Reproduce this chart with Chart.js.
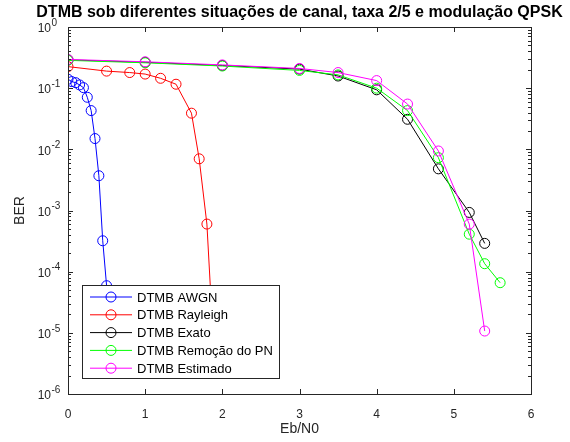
<!DOCTYPE html>
<html>
<head>
<meta charset="utf-8">
<title>DTMB BER</title>
<script src="https://cdn.jsdelivr.net/npm/chart.js@4.4.0/dist/chart.umd.min.js"></script>
<style>
  html, body { margin: 0; padding: 0; background: #fff; }
</style>
</head>
<body>
<canvas id="berChart" width="570" height="442"></canvas>
<script>
const titleText = 'DTMB sob diferentes situações de canal, taxa 2/5 e modulação QPSK';
const xLabel = 'Eb/N0';
const yLabel = 'BER';
const xTickValues = [0, 1, 2, 3, 4, 5, 6];
const yTickExponents = [0, -1, -2, -3, -4, -5, -6];

const seriesNames = ['DTMB AWGN', 'DTMB Rayleigh', 'DTMB Exato', 'DTMB Remoção do PN', 'DTMB Estimado'];
const seriesColors = ['#0000ff', '#ff0000', '#000000', '#00ff00', '#ff00ff'];

// valores
const awgnEbN0 = [0, 0.05, 0.1, 0.15, 0.2, 0.25, 0.3, 0.35, 0.4, 0.45, 0.5];
const awgnBer = [0.14, 0.128, 0.123, 0.113, 0.102, 0.071, 0.043, 0.015, 0.0037, 3.2e-4, 5.9e-5];
const rayleighEbN0 = [0, 0.5, 0.8, 1.0, 1.2, 1.4, 1.6, 1.7, 1.8, 1.9];
const rayleighBer = [0.225, 0.19, 0.18, 0.17, 0.145, 0.116, 0.039, 0.007, 6e-4, 3e-6];
const exatoEbN0 = [0, 1, 2, 3, 3.5, 4, 4.4, 4.8, 5.2, 5.4];
const exatoBer = [0.29, 0.265, 0.235, 0.205, 0.158, 0.094, 0.031, 0.0048, 9.3e-4, 2.9e-4];
const remocaoEbN0 = [0, 1, 2, 3, 3.5, 4, 4.4, 4.8, 5.2, 5.4, 5.6];
const remocaoBer = [0.285, 0.26, 0.23, 0.195, 0.165, 0.1, 0.043, 0.0073, 4.1e-4, 1.35e-4, 6.6e-5];
const estimadoEbN0 = [0, 1, 2, 3, 3.5, 4, 4.4, 4.8, 5.2, 5.4];
const estimadoBer = [0.295, 0.27, 0.24, 0.21, 0.18, 0.133, 0.055, 0.0094, 6e-4, 1.07e-5];

const fontFamily = '"Liberation Sans", Arial, sans-serif';
const axisColor = '#262626';
Chart.defaults.font.family = fontFamily;

function makeSeries(i, xs, ys) {
    return {
        label: seriesNames[i],
        data: xs.map((v, k) => ({ x: v, y: ys[k] })),
        borderColor: seriesColors[i],
        backgroundColor: 'rgba(0,0,0,0)',
        pointBorderColor: seriesColors[i],
        pointBackgroundColor: 'rgba(0,0,0,0)',
        pointRadius: 5,
        pointBorderWidth: 1,
        borderWidth: 1,
        fill: false,
        tension: 0,
        order: 5 - i // o último desenhado por cima, como no MATLAB
    };
}

// caixa, ticks internos, rótulos 10^n, título e legenda no estilo MATLAB
const matlabStyle = {
    id: 'matlabStyle',
    afterDatasetsDraw(chart) {
        const { ctx, chartArea: a, scales: { x, y } } = chart;
        ctx.save();
        ctx.strokeStyle = axisColor;
        ctx.lineWidth = 1;
        ctx.beginPath();
        for (const v of xTickValues) {
            const px = Math.round(x.getPixelForValue(v)) + 0.5;
            ctx.moveTo(px, a.bottom); ctx.lineTo(px, a.bottom - 5);
            ctx.moveTo(px, a.top); ctx.lineTo(px, a.top + 5);
        }
        for (const e of yTickExponents) {
            for (let m = 1; m < 10; m++) {
                const v = m * Math.pow(10, e);
                if (v > 1 || v < 1e-6) break;
                const py = Math.round(y.getPixelForValue(v)) + 0.5;
                const len = m === 1 ? 5 : 3;
                ctx.moveTo(a.left, py); ctx.lineTo(a.left + len, py);
                ctx.moveTo(a.right, py); ctx.lineTo(a.right - len, py);
            }
        }
        ctx.stroke();
        ctx.strokeRect(Math.round(a.left) + 0.5, Math.round(a.top) + 0.5,
            Math.round(a.right - a.left), Math.round(a.bottom - a.top));

        // legenda
        const lw = 197, lh = 93;
        const lx = Math.round(a.left + 14), ly = Math.round(a.bottom - 16 - lh);
        ctx.fillStyle = '#fff';
        ctx.fillRect(lx, ly, lw, lh);
        ctx.strokeStyle = axisColor;
        ctx.strokeRect(lx + 0.5, ly + 0.5, lw, lh);
        ctx.font = '13px ' + fontFamily;
        ctx.textBaseline = 'middle';
        ctx.textAlign = 'left';
        chart.data.datasets.forEach((ds, i) => {
            const ry = ly + 12 + i * 17.8;
            ctx.strokeStyle = ds.borderColor;
            ctx.beginPath();
            ctx.moveTo(lx + 8, ry); ctx.lineTo(lx + 50, ry);
            ctx.stroke();
            ctx.beginPath();
            ctx.arc(lx + 29, ry, 5, 0, Math.PI * 2);
            ctx.stroke();
            ctx.fillStyle = '#000';
            ctx.fillText(ds.label, lx + 55, ry + 1);
        });
        ctx.restore();
    },
    afterDraw(chart) {
        const { ctx, chartArea: a, scales: { y } } = chart;
        ctx.save();
        ctx.fillStyle = axisColor;
        ctx.textBaseline = 'middle';
        for (const e of yTickExponents) {
            const py = y.getPixelForValue(Math.pow(10, e));
            ctx.font = '12px ' + fontFamily;
            ctx.textAlign = 'right';
            ctx.fillText('10', 51, py + 2);
            ctx.font = '10px ' + fontFamily;
            ctx.textAlign = 'left';
            ctx.fillText(e === 0 ? '0' : '-' + Math.abs(e), 51.5, py - 4);
        }
        ctx.fillStyle = '#000';
        ctx.font = 'bold 16px ' + fontFamily;
        ctx.textAlign = 'center';
        ctx.fillText(titleText, (a.left + a.right) / 2, 13);
        ctx.restore();
    }
};

const ctx = document.getElementById('berChart').getContext('2d');
const berChart = new Chart(ctx, {
    type: 'line',
    data: {
        datasets: [
            makeSeries(0, awgnEbN0, awgnBer),
            makeSeries(1, rayleighEbN0, rayleighBer),
            makeSeries(2, exatoEbN0, exatoBer),
            makeSeries(3, remocaoEbN0, remocaoBer),
            makeSeries(4, estimadoEbN0, estimadoBer)
        ]
    },
    options: {
        responsive: false,
        animation: false,
        events: [],
        layout: { padding: { top: 27, right: 39, left: 0, bottom: 0 } },
        plugins: {
            legend: { display: false },
            tooltip: { enabled: false },
            title: { display: false }
        },
        scales: {
            x: {
                type: 'linear',
                min: 0,
                max: 6,
                afterFit: s => { s.height = 48; },
                afterBuildTicks: s => { s.ticks = xTickValues.map(v => ({ value: v })); },
                grid: { display: false },
                border: { display: false },
                ticks: { padding: 5, color: axisColor, font: { size: 12 }, maxRotation: 0, autoSkip: false },
                title: { display: true, text: xLabel, color: axisColor, font: { size: 14 }, padding: { top: 4, bottom: 4 } }
            },
            y: {
                type: 'logarithmic',
                min: 1e-6,
                max: 1,
                afterFit: s => { s.width = 68; },
                grid: { display: false },
                border: { display: false },
                ticks: { display: false },
                title: { display: true, text: yLabel, color: axisColor, font: { size: 14 }, padding: { top: 12, bottom: 0 } }
            }
        }
    },
    plugins: [matlabStyle]
});
</script>
</body>
</html>
